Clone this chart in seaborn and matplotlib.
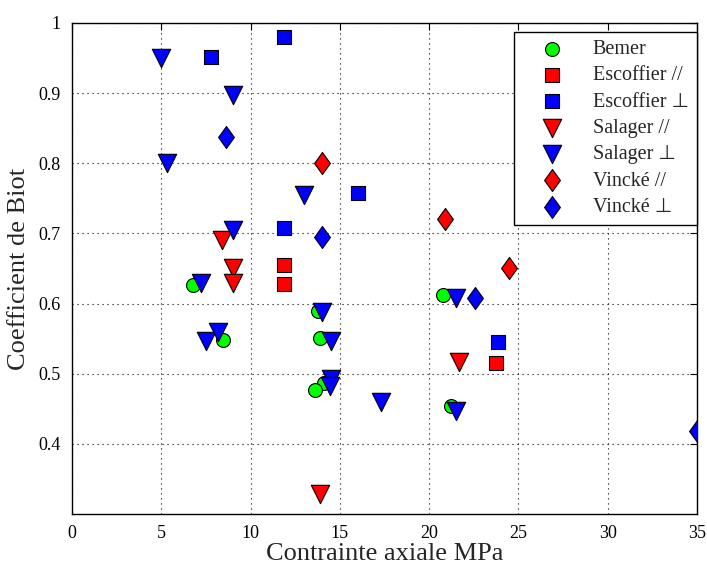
import pandas as pd
import numpy as np
import matplotlib
matplotlib.use('Agg')
import matplotlib.pyplot as plt
import seaborn as sns

# Contrainte axiale (MPa) / coefficient de Biot, per data set
bemer_x = [6.8, 8.45, 13.75, 13.9, 14.1, 13.6, 20.8, 21.25]
bemer_y = [0.626, 0.548, 0.590, 0.551, 0.487, 0.477, 0.612, 0.454]

esc_par_x = [11.9, 11.9, 23.75]
esc_par_y = [0.655, 0.628, 0.515]

esc_perp_x = [7.8, 11.9, 16.0, 11.9, 23.85]
esc_perp_y = [0.952, 0.980, 0.757, 0.708, 0.545]

sal_par_x = [8.4, 9.0, 9.0, 21.7, 13.9]
sal_par_y = [0.690, 0.650, 0.630, 0.517, 0.329]

sal_perp_x = [5.0, 9.0, 5.3, 13.0, 9.0, 7.2, 14.0, 7.5, 8.15, 14.5, 14.5, 14.45, 17.3, 21.5, 21.5]
sal_perp_y = [0.950, 0.898, 0.800, 0.755, 0.705, 0.630, 0.588, 0.547, 0.559, 0.547, 0.493, 0.482, 0.459, 0.608, 0.447]

vin_par_x = [14.0, 20.9, 24.5]
vin_par_y = [0.801, 0.720, 0.650]

vin_perp_x = [8.65, 14.0, 22.55, 35.0]
vin_perp_y = [0.837, 0.695, 0.608, 0.418]

labels = ['Bemer', 'Escoffier //', 'Escoffier \u22a5', 'Salager //',
          'Salager \u22a5', 'Vinck\u00e9 //', 'Vinck\u00e9 \u22a5']

sns.set_style("white")
plt.rcParams['font.family'] = ['Liberation Serif', 'DejaVu Sans']

diamond = [(0, 1), (0.72, 0), (0, -1), (-0.72, 0), (0, 1)]

series = [
    (bemer_x, bemer_y, '#00ff00', 'o', 100),
    (esc_par_x, esc_par_y, '#ff0000', 's', 90),
    (esc_perp_x, esc_perp_y, '#0000ff', 's', 90),
    (sal_par_x, sal_par_y, '#ff0000', 'v', 175),
    (sal_perp_x, sal_perp_y, '#0000ff', 'v', 175),
    (vin_par_x, vin_par_y, '#ff0000', diamond, 250),
    (vin_perp_x, vin_perp_y, '#0000ff', diamond, 250),
]

fig = plt.figure(figsize=(7.07, 5.65), dpi=100)
ax = fig.add_axes([0.1018, 0.0903, 0.884, 0.869])

for (xs, ys, col, mk, size), lab in zip(series, labels):
    df = pd.DataFrame({'x': xs, 'y': ys})
    sns.scatterplot(data=df, x='x', y='y', ax=ax, color=col, marker=mk, s=size,
                    edgecolor='black', linewidth=0.8, label=lab, zorder=3)

ax.set_xlim(0, 35)
ax.set_ylim(0.3, 1.0)
ax.set_xticks(np.arange(0, 36, 5))
ax.set_yticks([0.4, 0.5, 0.6, 0.7, 0.8, 0.9, 1.0])
ax.set_yticklabels(['0.4', '0.5', '0.6', '0.7', '0.8', '0.9', '1'])
ax.grid(True, color='black', linestyle=(0, (1, 3.5)), linewidth=0.8)
ax.set_axisbelow(True)
for sp in ax.spines.values():
    sp.set_color('black')
    sp.set_linewidth(1.0)
ax.tick_params(direction='in', top=True, right=True, length=5, width=0.8,
               labelsize=13, pad=8, colors='black')

ax.set_xlabel('Contrainte axiale MPa', fontsize=19, labelpad=1)
ax.set_ylabel('Coefficient de Biot', fontsize=19, labelpad=6)

leg = ax.legend(loc='upper right', bbox_to_anchor=(1.0, 0.982), borderaxespad=0,
                fontsize=14.5, frameon=True, fancybox=False, framealpha=1,
                edgecolor='black', handlelength=2.9, handletextpad=0.6,
                labelspacing=0.36, borderpad=0.4)
leg.get_frame().set_linewidth(1.0)

fig.savefig('out.png', dpi=100)
